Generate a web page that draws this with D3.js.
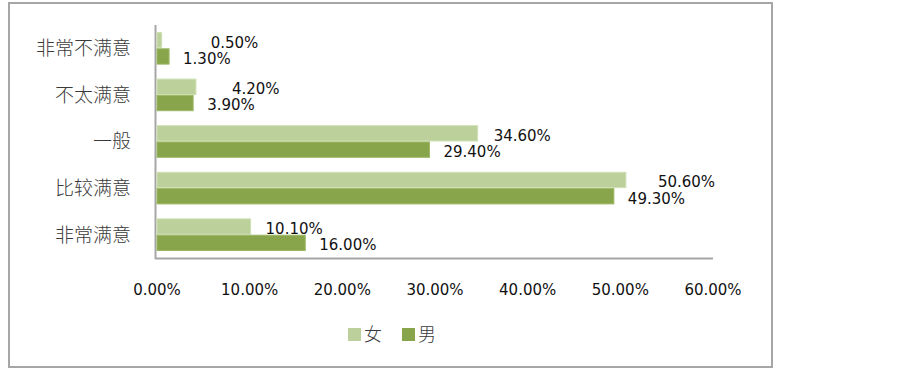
<!DOCTYPE html>
<html>
<head>
<meta charset="utf-8">
<script src="https://cdn.jsdelivr.net/npm/d3@7"></script>
<style>
  body { margin: 0; background: #fff; }
  svg text { font-family: "DejaVu Sans", Verdana, sans-serif; fill: #111; }
  svg text.cjk { font-family: "Noto Sans CJK SC", sans-serif; fill: #3a3a3a; font-weight: 300; }
</style>
</head>
<body>
<div id="chart"></div>
<script>
// =====================
// DATA
// =====================
const categories = ["非常不满意", "不太满意", "一般", "比较满意", "非常满意"];
const female = [0.005, 0.042, 0.346, 0.506, 0.101];
const male = [0.013, 0.039, 0.294, 0.493, 0.160];
const seriesNames = ["女", "男"];
const xTicks = [0, 0.1, 0.2, 0.3, 0.4, 0.5, 0.6];

// label nudges for the 女 labels (Excel shifted them off the bars)
const femaleLabelDx = [49, 36, 16, 32, 15];

const colors = ["#bbd09a", "#88a54c"];
const strokes = ["#cfe0b4", "#9cb865"];

// =====================
// SVG SETUP
// =====================
const W = 903, H = 370;
const svg = d3.select("#chart").append("svg")
  .attr("width", W)
  .attr("height", H);

// outer border
svg.append("rect")
  .attr("x", 9).attr("y", 3)
  .attr("width", 763).attr("height", 364)
  .attr("fill", "none")
  .attr("stroke", "#a6a6a6")
  .attr("stroke-width", 2);

// =====================
// SCALES
// =====================
const x = d3.scaleLinear()
  .domain([0, 0.6])
  .range([157, 713]);

const y = d3.scaleBand()
  .domain(categories)
  .range([25, 258])
  .paddingInner(0.3)
  .paddingOuter(0.15);

const ySub = d3.scaleBand()
  .domain(seriesNames)
  .range([0, y.bandwidth()]);

const fmt = d3.format(".2%");

// =====================
// AXES
// =====================
svg.append("line")
  .attr("x1", 155.5).attr("x2", 155.5)
  .attr("y1", 25).attr("y2", 259)
  .attr("stroke", "#a6a6a6")
  .attr("stroke-width", 2);

svg.append("line")
  .attr("x1", 155).attr("x2", x(0.6))
  .attr("y1", 258.5).attr("y2", 258.5)
  .attr("stroke", "#a6a6a6")
  .attr("stroke-width", 2);

svg.selectAll(".xtick")
  .data(xTicks)
  .join("text")
  .attr("class", "xtick")
  .attr("x", d => x(d))
  .attr("y", 295)
  .attr("text-anchor", "middle")
  .style("font-size", "15px")
  .text(d => fmt(d));

svg.selectAll(".ylab")
  .data(categories)
  .join("text")
  .attr("class", "ylab cjk")
  .attr("x", 131)
  .attr("y", d => y(d) + y.bandwidth() / 2)
  .attr("dy", "0.36em")
  .attr("text-anchor", "end")
  .style("font-size", "19px")
  .text(d => d);

// =====================
// BARS
// =====================
const rows = categories.map((c, i) => ({ cat: c, i, vals: [female[i], male[i]] }));

const groups = svg.selectAll(".grp")
  .data(rows)
  .join("g")
  .attr("class", "grp")
  .attr("transform", d => `translate(0,${y(d.cat)})`);

groups.selectAll("rect")
  .data(d => d.vals.map((v, k) => ({ v, k, s: seriesNames[k] })))
  .join("rect")
  .attr("x", x(0))
  .attr("y", d => ySub(d.s) + 0.5)
  .attr("width", d => x(d.v) - x(0))
  .attr("height", ySub.bandwidth() - 1)
  .attr("fill", d => colors[d.k])
  .attr("stroke", d => strokes[d.k])
  .attr("stroke-width", 1);

groups.selectAll(".val")
  .data(d => d.vals.map((v, k) => ({ v, k, s: seriesNames[k], i: d.i })))
  .join("text")
  .attr("class", "val")
  .attr("x", d => x(d.v) + (d.k === 0 ? femaleLabelDx[d.i] : 14))
  .attr("y", d => ySub(d.s) + ySub.bandwidth() / 2 + 2)
  .attr("dy", "0.36em")
  .style("font-size", "15px")
  .text(d => fmt(d.v));

// =====================
// LEGEND
// =====================
const legend = svg.append("g")
  .attr("transform", "translate(348,328)");

const items = legend.selectAll("g")
  .data(seriesNames)
  .join("g")
  .attr("transform", (d, i) => `translate(${i * 54},0)`);

items.append("rect")
  .attr("width", 13)
  .attr("height", 13)
  .attr("fill", (d, i) => colors[i]);

items.append("text")
  .attr("class", "cjk")
  .attr("x", 16)
  .attr("y", 6.5)
  .attr("dy", "0.36em")
  .style("font-size", "18px")
  .text(d => d);
</script>
</body>
</html>
